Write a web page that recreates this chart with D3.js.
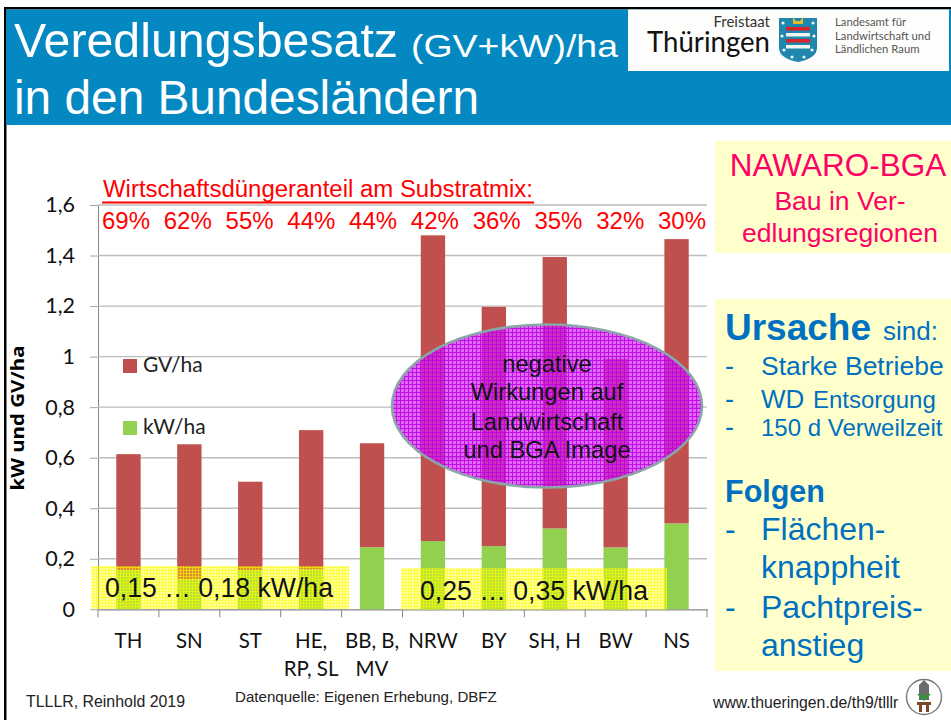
<!DOCTYPE html>
<html><head><meta charset="utf-8">
<script src="https://cdn.jsdelivr.net/npm/d3@7"></script>
<style>html,body{margin:0;padding:0;background:#fff}svg{display:block}</style>
</head><body><div id="c"></div>
<script>
const categories = ["TH","SN","ST","HE, RP, SL","BB, B, MV","NRW","BY","SH, H","BW","NS"];
const kWperHa = [0.155,0.119,0.155,0.158,0.246,0.27,0.25,0.32,0.245,0.34];
const GVperHa = [0.459,0.534,0.35,0.551,0.411,1.21,0.947,1.074,0.745,1.125];
const shareLabels = ["69%","62%","55%","44%","44%","42%","36%","35%","32%","30%"];
const yTicks = [0,0.2,0.4,0.6,0.8,1,1.2,1.4,1.6];
const catLines = {"HE, RP, SL":["HE,","RP, SL"],"BB, B, MV":["BB, B,","MV"]};

const W=951,H=720;
const svg=d3.select("#c").append("svg").attr("width",W).attr("height",H).attr("viewBox",[0,0,W,H]);
const ARIAL="'Liberation Sans',Arial,sans-serif", CAL="Lato,'Open Sans',sans-serif";
const defs=svg.append("defs");
function pat(id,size,draw){const p=defs.append("pattern").attr("id",id).attr("width",size).attr("height",size).attr("patternUnits","userSpaceOnUse");draw(p);}
pat("dotY",3,p=>{
  p.append("rect").attr("width",3).attr("height",3).attr("fill","#ffff00").attr("fill-opacity",.35);
  p.append("rect").attr("width",3).attr("height",1).attr("fill","#ffff00").attr("fill-opacity",.6);
  p.append("rect").attr("width",1).attr("y",1).attr("height",2).attr("fill","#ffff00").attr("fill-opacity",.6);
});
pat("mag",4,p=>{
  p.append("rect").attr("width",4).attr("height",1).attr("fill","#c000e8").attr("fill-opacity",.95);
  p.append("rect").attr("y",1).attr("width",1).attr("height",3).attr("fill","#c000e8").attr("fill-opacity",.95);
  p.append("rect").attr("x",1).attr("y",1).attr("width",3).attr("height",3).attr("fill","#d020f0").attr("fill-opacity",.68);
});
function txt(t,x,y,size,fill,o={}){
  const e=svg.append("text").attr("x",x).attr("y",y).attr("font-size",size).attr("fill",fill)
    .attr("font-family",o.font||ARIAL).attr("text-anchor",o.anchor||"start").text(t);
  if(o.bold)e.attr("font-weight","700");
  if(o.len)e.attr("textLength",o.len).attr("lengthAdjust","spacingAndGlyphs");
  return e;
}
// frame & header
svg.append("rect").attr("x",4).attr("y",7).attr("width",W-4).attr("height",H-7).attr("fill","#000");
svg.append("rect").attr("x",6.5).attr("y",9.5).attr("width",W-6.5).attr("height",H-9.5).attr("fill","#fff");
svg.append("rect").attr("x",6).attr("y",9.5).attr("width",W-6).attr("height",115.5).attr("fill","#0388c2");
txt("Veredlungsbesatz",14,57,48,"#fff",{len:384});
txt("(GV+kW)/ha",411,57,32,"#fff",{len:207});
txt("in den Bundesländern",14,114,48,"#fff",{len:465});
// logo
svg.append("rect").attr("x",628).attr("y",9.5).attr("width",321).attr("height",61.5).attr("fill","#fdfdfb");
txt("Freistaat",770,27,15,"#333",{font:CAL,anchor:"end"});
txt("Thüringen",770,52,29,"#111",{font:CAL,anchor:"end",len:123});
svg.append("path").attr("d","M779 18H817V48Q817 58 798 62Q779 58 779 48Z").attr("fill","#1f86ad");
[27,33,39,45].forEach((y,i)=>svg.append("rect").attr("x",786).attr("y",y).attr("width",24).attr("height",3.5).attr("fill",i%2?"#f4f4f4":"#d8232a"));
svg.append("path").attr("d","M793 17L796 21H800L803 17V24H793Z").attr("fill","#e4b92b");
[[783,23],[813,23],[782,36],[814,36],[784,50],[812,50],[792,57],[804,57]].forEach(d=>
  svg.append("circle").attr("cx",d[0]).attr("cy",d[1]).attr("r",1.6).attr("fill","#f4f4f4"));
[["Landesamt für",26],["Landwirtschaft und",39.5],["Ländlichen Raum",53]].forEach(d=>txt(d[0],835,d[1],11.3,"#555",{font:CAL}));

// chart
const x=d3.scaleBand().domain(categories).range([98,707]).paddingInner(.6).paddingOuter(.3);
const y=d3.scaleLinear().domain([0,1.6]).range([609.3,205]);
const rows=categories.map((c,i)=>({c,kW:kWperHa[i],GV:GVperHa[i]}));
const stack=d3.stack().keys(["kW","GV"])(rows);
const colors={kW:"#92d050",GV:"#c0504d"};

const yAxis=d3.axisLeft(y).tickValues(yTicks).tickSize(8).tickPadding(15)
  .tickFormat(d=>String(d).replace(".",","));
const gy=svg.append("g").attr("transform","translate(98,0)").call(yAxis);
gy.select(".domain").attr("stroke","#868686").attr("d",`M0.5,${y(1.6)}V${y(0)}`);
gy.selectAll(".tick line").attr("stroke","#a6a6a6");
gy.selectAll("text").attr("font-family",CAL).attr("font-size",21.5).attr("fill","#111");
svg.append("g").selectAll("line").data(yTicks.filter(d=>d>0)).join("line")
  .attr("x1",98).attr("x2",707).attr("y1",d=>y(d)).attr("y2",d=>y(d))
  .attr("stroke","#bdbdbd").attr("stroke-width",1.4);

const xEdges=d3.range(categories.length+1).map(i=>98+i*(707-98)/categories.length);
svg.append("g").selectAll("line").data(xEdges).join("line")
  .attr("x1",d=>d).attr("x2",d=>d).attr("y1",y(0)).attr("y2",y(0)+8).attr("stroke","#868686");
const xAxis=d3.axisBottom(x).tickSize(0).tickPadding(0).tickFormat("");
const gx=svg.append("g").attr("transform",`translate(0,${y(0)})`).call(xAxis);
gx.select(".domain").attr("stroke","#868686").attr("stroke-width",1.2);
categories.forEach(c=>{
  (catLines[c]||[c]).forEach((t,i)=>txt(t,x(c)+x.bandwidth()/2,648+i*28,20.5,"#111",{font:CAL,anchor:"middle"}));
});

const bars=svg.append("g");
stack.forEach(s=>{
  bars.append("g").attr("fill",colors[s.key]).selectAll("rect").data(s).join("rect")
    .attr("x",d=>x(d.data.c)).attr("width",x.bandwidth())
    .attr("y",d=>y(d[1])).attr("height",d=>y(d[0])-y(d[1]));
});

// axis title
txt("kW und GV/ha",0,0,18,"#000",{font:"'Open Sans',sans-serif",bold:true,anchor:"middle",len:145}).attr("transform","translate(24,418) rotate(-90)");
// legend
[["GV/ha","GV",359],["kW/ha","kW",421]].forEach(d=>{
  svg.append("rect").attr("x",123).attr("y",d[2]).attr("width",14).attr("height",14).attr("fill",colors[d[1]]);
  txt(d[0],143,d[2]+13,21,"#222",{font:CAL});
});
// share labels
txt("Wirtschaftsdüngeranteil am Substratmix:",103,197,23.5,"#f00",{len:430});
svg.append("rect").attr("x",102).attr("y",201.5).attr("width",432).attr("height",2).attr("fill","#f00");
const xs=d3.scalePoint().domain(d3.range(shareLabels.length)).range([126,682]);
shareLabels.forEach((t,i)=>txt(t,xs(i),229,24,"#f00",{anchor:"middle"}));

// yellow notes
svg.append("rect").attr("x",91).attr("y",566).attr("width",258).attr("height",43).attr("fill","url(#dotY)");
svg.append("rect").attr("x",401).attr("y",568).attr("width",266).attr("height",41.5).attr("fill","url(#dotY)");
txt("0,15 … 0,18 kW/ha",105,597,27,"#111",{len:228});
txt("0,25 … 0,35 kW/ha",420,600,27,"#111",{len:228});

// ellipse
svg.append("ellipse").attr("cx",547).attr("cy",406).attr("rx",155).attr("ry",81.5)
  .attr("fill","url(#mag)").attr("stroke","#8aa6a8").attr("stroke-width",2.6);
[["negative",372],["Wirkungen auf",400],["Landwirtschaft",430],["und BGA Image",458]].forEach(d=>
  txt(d[0],547,d[1],23.7,"#111",{anchor:"middle"}));

// right panels
svg.append("rect").attr("x",715).attr("y",141).attr("width",236).attr("height",112).attr("fill","#ffffcc");
svg.append("rect").attr("x",715).attr("y",299).attr("width",236).attr("height",372).attr("fill","#ffffcc");
const P="#ff0066",B="#0070c0";
txt("NAWARO-BGA",838,176,31.5,P,{anchor:"middle"});
txt("Bau in Ver-",840,210,26.5,P,{anchor:"middle"});
txt("edlungsregionen",840,242,26.5,P,{anchor:"middle"});
txt("Ursache",725,340,37,B,{bold:true});
txt("sind:",883,340,26,B);
[375,408,436].forEach(yy=>txt("-",725,yy,27,B));
[540,618].forEach(yy=>txt("-",725,yy,32,B));
txt("Starke Betriebe",761,375,26.5,B);
txt("WD",761,408,26,B);
txt("Entsorgung",813,408,24,B);
txt("150 d Verweilzeit",761,436,24,B);
txt("Folgen",725,502,30.5,B,{bold:true});
txt("Flächen-",761,540,32,B);
txt("knappheit",761,578,32,B);
txt("Pachtpreis-",761,618,32,B);
txt("anstieg",761,656,32,B);

// footer
txt("TLLLR, Reinhold 2019",26,707,15.9,"#222");
txt("Datenquelle: Eigenen Erhebung, DBFZ",235,702,15.1,"#222");
txt("www.thueringen.de/th9/tlllr",713,708,15.8,"#222");
svg.append("circle").attr("cx",924).attr("cy",697).attr("r",17.5).attr("fill","#fff").attr("stroke","#777").attr("stroke-width",1.4);
svg.append("path").attr("d","M919 700V685L924 680L929 685V700Z").attr("fill","#6b6b6b");
svg.append("path").attr("d","M924 701L917 694L921 694L924 697L927 694L931 694Z").attr("fill","#2f9a35");
svg.append("path").attr("d","M917 702H931V705H929V712H926V705H922V712H919V705H917Z").attr("fill","#7a4a28");
</script></body></html>
